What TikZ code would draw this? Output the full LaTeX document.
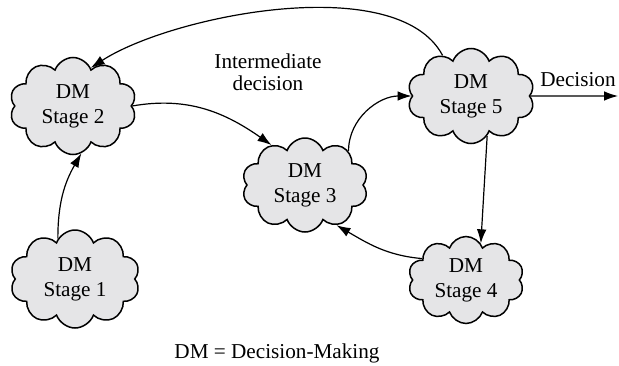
\documentclass[tikz,border=0pt]{standalone}
\usepackage{fontspec}
\setmainfont{Liberation Serif}
\usetikzlibrary{shapes.symbols,arrows.meta}
\definecolor{cloudGray}{RGB}{229,229,231}

\begin{document}
\begin{tikzpicture}[x=0.5pt, y=0.5pt, font=\fontsize{10.6}{12.5}\selectfont,
  stagecloud/.style={cloud, cloud puffs=10, cloud puff arc=140, cloud ignores aspect, draw,
    line width=0.75pt, fill=cloudGray, align=center, inner sep=0pt},
  flow/.style={line width=0.6pt, -{Latex[length=7pt,width=4.8pt]}}]

  \useasboundingbox (0,0) rectangle (619,365);

  % Clouds: number / position / size
  \foreach \n/\x/\y/\w/\h in {1/75/86/65/49, 2/73/259/63.5/48.5, 3/305/180/63/47,
                              4/466/85/58/43.5, 5/471/269/63.5/47.5} {
    \node[stagecloud, minimum width=\w pt, minimum height=\h pt] (s\n) at (\x,\y) {DM\\Stage \n};
  }

  % Labels
  \node[align=center, font=\fontsize{10.6}{11}\selectfont] (inter) at (268,293) {Intermediate\\decision};
  \node (decl) at (578,285) {Decision};
  \node (legend) at (277,12) {DM = Decision-Making};
  \coordinate (out) at (618,269);

  % Connectors
  \draw[flow] (s5.125) to[out=118, in=33, looseness=0.7] (s2.65);
  \draw[flow] (s1.113) to[out=90, in=240] (s2.280);
  \draw[flow] (s2.east) to[out=10, in=145] (s3.130);
  \draw[flow] (s3.38) to[out=90, in=180] (s5.west);
  \draw[flow] (s5.292) -- (s4.68);
  \draw[flow] (s4.154) to[out=175, in=330] (s3.308);
  \draw[flow] (s5.east) -- (out);

\end{tikzpicture}
\end{document}
